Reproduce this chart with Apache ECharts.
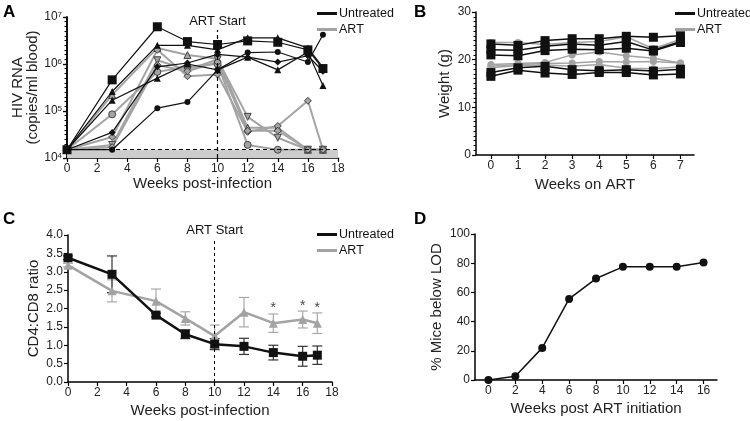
<!DOCTYPE html>
<html><head><meta charset="utf-8">
<script src="https://cdn.jsdelivr.net/npm/echarts@6/dist/echarts.min.js"></script>
<style>html,body{margin:0;padding:0;background:#fff}#c{width:750px;height:421px}</style>
</head><body><div id="c"></div>
<script>
const FONT = 'Liberation Sans, Arial, sans-serif';

// ---------- Panel A: HIV RNA (copies/ml blood) vs weeks post-infection ----------
const weeksA = [0, 3, 6, 8, 10, 12, 14, 16, 17];
const rnaU_square   = [1.5e4, 4.6e5, 6.2e6, 3.0e6, 2.6e6, 3.1e6, 2.9e6, 2.0e6, 8.0e5];
const rnaU_triHigh  = [1.5e4, 2.6e5, 2.5e6, 2.5e6, 2.0e6, 3.6e6, 3.6e6, 2.2e6, 8.5e5];
const rnaU_circle   = [1.5e4, 1.5e4, 1.15e5, 1.55e5, 7.5e5, 1.75e6, 1.8e6, 1.1e6, 4.2e6];
const rnaU_diamond  = [1.5e4, 3.5e4, 8.7e5, 1.05e6, 1.6e6, 1.4e6, 1.1e6, 1.5e6, 7.0e5];
const rnaU_triLow   = [1.5e4, 1.7e5, 5.0e5, 1.0e6, 7.5e5, 1.4e6, 7.5e5, 1.8e6, 3.5e5];
const rnaA_triangle = [1.5e4, 2.2e5, 2.2e6, 1.55e6, 1.3e6, 4.4e4, 4.4e4, 1.5e4, 1.5e4];
const rnaA_circle   = [1.5e4, 8.5e4, 6.8e5, 8.7e5, 1.0e6, 1.9e4, 1.5e4, 1.5e4, 1.5e4];
const rnaA_diamond  = [1.5e4, 2.8e4, 2.0e6, 5.5e5, 6.0e5, 3.6e4, 4.8e4, 1.65e5, 1.5e4];
const rnaA_invTri   = [1.5e4, 1.9e4, 1.2e6, 7.5e5, 1.25e6, 7.5e4, 2.7e4, 1.5e4, 1.5e4];
const rnaA_diamond2 = [1.5e4, 1.7e4, 9.5e5, 7.0e5, 1.1e6, 3.8e4, 3.8e4, 1.5e4, 1.5e4];
const lodRNA = 1.5e4;
const artStartWeek = 10;

// ---------- Panel B: Weight (g) vs weeks on ART ----------
const weeksB = [0, 1, 2, 3, 4, 5, 6, 7];
const wU1 = [23.3, 23.0, 24.0, 24.4, 24.4, 24.9, 24.7, 25.0];
const wU2 = [22.1, 22.0, 22.8, 23.3, 23.0, 23.8, 22.0, 23.8];
const wU3 = [21.0, 20.8, 21.9, 22.2, 22.1, 22.4, 21.8, 23.6];
const wU4 = [17.3, 18.3, 18.6, 17.9, 17.7, 17.9, 17.6, 18.0];
const wU5 = [16.5, 17.8, 17.2, 16.9, 17.3, 17.3, 16.8, 17.0];
const wA1 = [23.6, 23.6, 23.2, 23.6, 23.8, 24.8, 22.3, 24.3];
const wA2 = [19.0, 19.2, 19.4, 21.0, 21.6, 20.8, 20.3, 19.3];
const wA3 = [18.6, 19.0, 19.2, 19.3, 19.6, 19.5, 19.6, 19.3];
const wA4 = [18.3, 18.8, 18.9, 18.6, 19.0, 18.2, 18.1, 18.5];

// ---------- Panel C: CD4:CD8 ratio ----------
const weeksC = [0, 3, 6, 8, 10, 12, 14, 16, 17];
const ratioU    = [3.38, 2.93, 1.82, 1.30, 1.03, 0.97, 0.80, 0.70, 0.73];
const ratioUErr = [0.05, 0.50, 0.05, 0.12, 0.15, 0.22, 0.20, 0.27, 0.25];
const ratioA    = [3.18, 2.48, 2.20, 1.73, 1.25, 1.90, 1.60, 1.70, 1.60];
const ratioAErr = [0.05, 0.30, 0.33, 0.18, 0.30, 0.40, 0.25, 0.23, 0.28];
const sigWeeks  = [14, 16, 17];
const sigMarkY  = [2.02, 2.07, 2.02];

// ---------- Panel D: % mice below LOD ----------
const weeksD = [0, 2, 4, 6, 8, 10, 12, 14, 16];
const pctBelowLOD = [0, 2.5, 22, 55.5, 69.5, 77.5, 77.5, 77.5, 80.5];

// ---------- helpers ----------
const BLACK = '#111', GREY = '#a3a3a3', GREY_BORDER = '#444';
const zip = (xs, ys) => xs.map((x, i) => [x, ys[i]]);
const axisLine = {show: true, onZero: false, lineStyle: {color: '#000', width: 1.5}};
const axisTick = {show: true, length: 4, lineStyle: {color: '#000', width: 1.2}};
const lbl = (fs) => ({color: '#222', fontSize: fs, fontFamily: FONT, margin: 5});
const nameStyle = {color: '#222', fontSize: 15, fontFamily: FONT};

function lineSeries(name, gi, xs, ys, symbol, opts) {
  const grey = name === 'ART';
  return Object.assign({
    type: 'line', name, xAxisIndex: gi, yAxisIndex: gi,
    data: zip(xs, ys), symbol, symbolSize: 7, showSymbol: true,
    lineStyle: {color: grey ? GREY : BLACK, width: grey ? 2 : 1.2},
    itemStyle: grey ? {color: GREY, borderColor: GREY_BORDER, borderWidth: 1} : {color: BLACK, borderWidth: 0},
    emphasis: {disabled: true}, animation: false, z: grey ? 3 : 4
  }, opts || {});
}

function errSeries(gi, xs, ys, errs, color) {
  return {
    type: 'custom', xAxisIndex: gi, yAxisIndex: gi, animation: false, z: 1,
    data: xs.map((x, i) => [x, ys[i] - errs[i], ys[i] + errs[i]]),
    renderItem: (params, api) => {
      const lo = api.coord([api.value(0), api.value(1)]);
      const hi = api.coord([api.value(0), api.value(2)]);
      const w = 5, st = {stroke: color, lineWidth: 1.2};
      return {type: 'group', children: [
        {type: 'line', shape: {x1: lo[0], y1: lo[1], x2: hi[0], y2: hi[1]}, style: st},
        {type: 'line', shape: {x1: lo[0] - w, y1: lo[1], x2: lo[0] + w, y2: lo[1]}, style: st},
        {type: 'line', shape: {x1: hi[0] - w, y1: hi[1], x2: hi[0] + w, y2: hi[1]}, style: st}
      ]};
    }
  };
}

const legendData = [
  {name: 'Untreated', itemStyle: {color: BLACK, borderWidth: 0}},
  {name: 'ART', itemStyle: {color: GREY, borderWidth: 0}}
];
function legendAt(left, top) {
  return {data: legendData, left, top, orient: 'vertical', icon: 'rect', itemWidth: 20, itemHeight: 3,
    itemGap: 3, selectedMode: false, textStyle: {fontSize: 12.5, fontFamily: FONT, color: '#111', padding: [0, 0, 0, -3]}};
}

const option = {
  backgroundColor: '#fff',
  textStyle: {fontFamily: FONT},
  grid: [
    {left: 67, top: 17, width: 271, height: 141},
    {left: 476, top: 12, width: 218, height: 143},
    {left: 68, top: 235, width: 264, height: 147},
    {left: 475, top: 234, width: 242, height: 146}
  ],
  legend: [legendAt(312, 2), legendAt(670, 2), legendAt(312, 223)],
  xAxis: [
    {gridIndex: 0, type: 'value', min: 0, max: 18, interval: 2, axisLine, axisTick, splitLine: {show: false},
      axisLabel: lbl(12), name: 'Weeks post-infection', nameLocation: 'middle', nameGap: 18, nameTextStyle: nameStyle},
    {gridIndex: 1, type: 'value', min: -0.55, max: 7.5, axisLine, splitLine: {show: false},
      axisTick: Object.assign({}, axisTick, {customValues: weeksB}),
      axisLabel: Object.assign(lbl(12), {customValues: weeksB}),
      name: 'Weeks on ART', nameLocation: 'middle', nameGap: 22, nameTextStyle: nameStyle},
    {gridIndex: 2, type: 'value', min: 0, max: 18, interval: 2, axisLine, axisTick, splitLine: {show: false},
      axisLabel: lbl(12), name: 'Weeks post-infection', nameLocation: 'middle', nameGap: 21, nameTextStyle: nameStyle},
    {gridIndex: 3, type: 'value', min: -1, max: 17, axisLine, splitLine: {show: false},
      axisTick: Object.assign({}, axisTick, {customValues: weeksD}),
      axisLabel: Object.assign(lbl(12), {customValues: weeksD}),
      name: 'Weeks post ART initiation', nameLocation: 'middle', nameGap: 21, nameTextStyle: nameStyle}
  ],
  yAxis: [
    {gridIndex: 0, type: 'log', logBase: 10, min: 1e4, max: 1e7, splitNumber: 3, axisLine, axisTick,
      splitLine: {show: false},
      axisLabel: Object.assign(lbl(12), {
        formatter: v => '10{s|' + Math.round(Math.log10(v)) + '}',
        rich: {s: {fontSize: 8, verticalAlign: 'top', lineHeight: 8, fontFamily: FONT, color: '#222'}}
      }),
      name: 'HIV RNA\n(copies/ml blood)', nameLocation: 'middle', nameGap: 16, nameRotate: 90,
      nameTextStyle: Object.assign({}, nameStyle, {lineHeight: 15})},
    {gridIndex: 1, type: 'value', min: 0, max: 30, interval: 10, axisLine, axisTick,
      minorTick: {show: true, splitNumber: 10, length: 2.5, lineStyle: {color: '#000', width: 1}},
      splitLine: {show: false}, axisLabel: lbl(12),
      name: 'Weight (g)', nameLocation: 'middle', nameGap: 24, nameTextStyle: nameStyle},
    {gridIndex: 2, type: 'value', min: 0, max: 4, interval: 0.5, axisLine, axisTick, splitLine: {show: false},
      axisLabel: Object.assign(lbl(12), {formatter: v => v.toFixed(1)}),
      name: 'CD4:CD8 ratio', nameLocation: 'middle', nameGap: 27, nameTextStyle: nameStyle},
    {gridIndex: 3, type: 'value', min: 0, max: 100, interval: 20, axisLine, axisTick, splitLine: {show: false},
      axisLabel: lbl(12),
      name: '% Mice below LOD', nameLocation: 'middle', nameGap: 31, nameTextStyle: nameStyle},
    // decorative minor-tick ruler for panel A's log axis (exponent space, no series attached)
    {gridIndex: 0, type: 'value', position: 'left', min: 4, max: 7, interval: 1,
      axisLine: {show: true, onZero: false, lineStyle: {color: '#000', width: 1.5}},
      axisTick: {show: true, length: 4, lineStyle: {color: '#000', width: 1.2}},
      axisLabel: {show: false}, splitLine: {show: false},
      minorTick: {show: true, splitNumber: 10, length: 2.5, lineStyle: {color: '#000', width: 1}}}
  ],
  graphic: [
    {type: 'text', left: 3, top: 4, style: {text: 'A', font: 'bold 17px ' + FONT, fill: '#000'}},
    {type: 'text', left: 414, top: 4, style: {text: 'B', font: 'bold 17px ' + FONT, fill: '#000'}},
    {type: 'text', left: 3, top: 211, style: {text: 'C', font: 'bold 17px ' + FONT, fill: '#000'}},
    {type: 'text', left: 414, top: 211, style: {text: 'D', font: 'bold 17px ' + FONT, fill: '#000'}}
  ],
  series: [
    // Panel A reference marks
    {type: 'line', xAxisIndex: 0, yAxisIndex: 0, data: [], silent: true, animation: false,
      markArea: {silent: true, itemStyle: {color: '#cdcdcd'}, data: [[{coord: [0, 1e4]}, {coord: [18, lodRNA]}]]},
      markLine: {silent: true, symbol: 'none', animation: false,
        lineStyle: {color: '#000', type: [4, 3], width: 1.2},
        data: [
          [{coord: [0, lodRNA], label: {show: false}}, {coord: [18, lodRNA]}],
          [{coord: [artStartWeek, 1e4]}, {coord: [artStartWeek, 5.3e6], label: {show: true, position: 'end', formatter: 'ART Start', fontSize: 13, color: '#111', fontFamily: FONT, distance: 2}}]
        ]}},
    lineSeries('ART', 0, weeksA, rnaA_triangle, 'triangle'),
    lineSeries('ART', 0, weeksA, rnaA_circle, 'circle'),
    lineSeries('ART', 0, weeksA, rnaA_diamond, 'diamond'),
    lineSeries('ART', 0, weeksA, rnaA_invTri, 'triangle', {symbolRotate: 180}),
    lineSeries('ART', 0, weeksA, rnaA_diamond2, 'diamond'),
    lineSeries('Untreated', 0, weeksA, rnaU_square, 'rect', {symbolSize: 9}),
    lineSeries('Untreated', 0, weeksA, rnaU_triHigh, 'triangle'),
    lineSeries('Untreated', 0, weeksA, rnaU_circle, 'circle', {symbolSize: 6}),
    lineSeries('Untreated', 0, weeksA, rnaU_diamond, 'diamond'),
    lineSeries('Untreated', 0, weeksA, rnaU_triLow, 'triangle'),
    // Panel B
    ...[wA1, wA2, wA3, wA4].map(d => lineSeries('ART', 1, weeksB, d, 'circle', {symbolSize: 7, itemStyle: {color: GREY, borderWidth: 0}, lineStyle: {color: GREY, width: 1.5}})),
    ...[wU1, wU2, wU3, wU4, wU5].map(d => lineSeries('Untreated', 1, weeksB, d, 'rect', {symbolSize: 9, lineStyle: {color: BLACK, width: 1.5}})),
    // Panel C
    errSeries(2, weeksC, ratioA, ratioAErr, '#a8a8a8'),
    errSeries(2, weeksC, ratioU, ratioUErr, '#333'),
    lineSeries('ART', 2, weeksC, ratioA, 'triangle', {symbolSize: 9, itemStyle: {color: GREY, borderWidth: 0}, lineStyle: {color: GREY, width: 2.5},
      markLine: {silent: true, symbol: 'none', animation: false, lineStyle: {color: '#000', type: [3, 3], width: 1},
        data: [[{coord: [artStartWeek, 0]}, {coord: [artStartWeek, 3.87], label: {show: true, position: 'end', formatter: 'ART Start', fontSize: 13, color: '#111', fontFamily: FONT, distance: 3}}]]}}),
    lineSeries('Untreated', 2, weeksC, ratioU, 'rect', {symbolSize: 9, lineStyle: {color: BLACK, width: 2.5}}),
    {type: 'scatter', xAxisIndex: 2, yAxisIndex: 2, data: zip(sigWeeks, sigMarkY), symbolSize: 1,
      itemStyle: {color: 'rgba(0,0,0,0)'}, animation: false, silent: true,
      label: {show: true, position: 'inside', formatter: '*', fontSize: 14, color: '#111', fontFamily: FONT}},
    // Panel D
    {type: 'line', name: 'below LOD', xAxisIndex: 3, yAxisIndex: 3, data: zip(weeksD, pctBelowLOD),
      symbol: 'circle', symbolSize: 8, lineStyle: {color: BLACK, width: 1.5}, itemStyle: {color: BLACK},
      animation: false, emphasis: {disabled: true}}
  ]
};

const chart = echarts.init(document.getElementById('c'), null, {renderer: 'canvas'});
chart.setOption(option);
</script></body></html>
